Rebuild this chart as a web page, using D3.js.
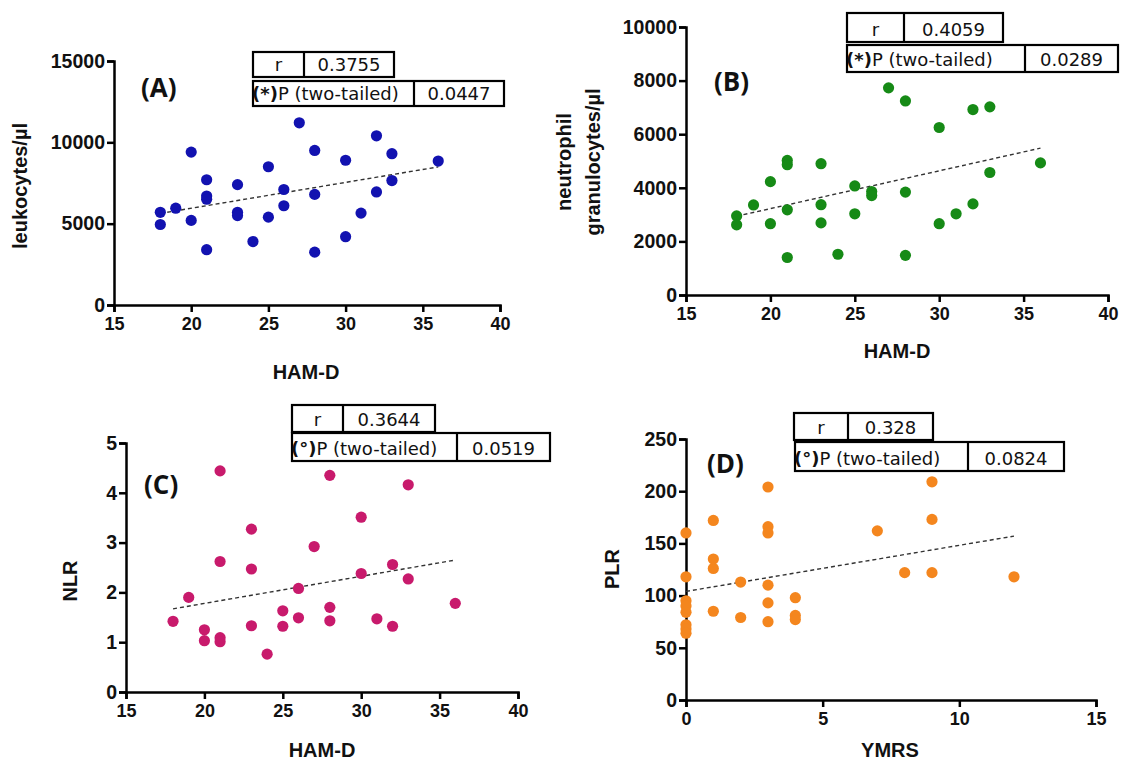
<!DOCTYPE html>
<html>
<head>
<meta charset="utf-8">
<title>Inflammatory markers vs. HAM-D / YMRS</title>
<style type="text/css">
body { margin: 0; background: #fff; }
.axis path, .axis line { stroke: #000; stroke-width: 2.5px; }
.axis text { font-family: "Liberation Sans", Arial, sans-serif; font-weight: bold; font-size: 18px; fill: #111; }
.axis--y text { font-size: 19.5px; }
.title { font-family: "Liberation Sans", Arial, sans-serif; font-weight: bold; font-size: 20px; fill: #111; }
.panel { font-family: "Open Sans", sans-serif; font-weight: bold; font-size: 26px; fill: #111; }
.stat { font-family: "DejaVu Sans", sans-serif; font-size: 18px; fill: #111; }
.fit { fill: none; stroke: #333; stroke-width: 1.4px; stroke-dasharray: 4,3; }
</style>
<script src="https://cdn.jsdelivr.net/npm/d3@7"></script>
</head>
<body>
<svg width="1126" height="762"></svg>
<script type="text/javascript">

// (A) leukocytes vs HAM-D
var hamdA = [18,18,19,20,20,21,21,21,21,23,23,23,24,25,25,26,26,27,28,28,28,30,30,31,32,32,33,33,36];
var leukocytes = [5700,4950,5950,9400,5200,7700,6700,6500,3400,7400,5700,5500,3900,8500,5400,7100,6100,11200,9500,6800,3250,8900,4200,5650,10400,6950,9300,7650,8850];
var fitA = [[18,5630],[36,8490]];

// (B) neutrophil granulocytes vs HAM-D
var hamdB = [18,18,19,20,20,21,21,21,21,23,23,23,24,25,25,26,26,27,28,28,28,30,30,31,32,32,33,33,36];
var neutrophils = [2950,2620,3360,4230,2660,5020,4860,3180,1400,4900,3370,2690,1520,4070,3030,3860,3710,7730,7240,3840,1480,6250,2660,3030,6920,3400,7020,4570,4930];
var fitB = [[18,2940],[36,5480]];

// (C) NLR vs HAM-D
var hamdC = [18,19,20,20,21,21,21,21,23,23,23,24,25,25,26,26,27,28,28,28,30,30,31,32,32,33,33,36];
var nlr = [1.42,1.9,1.25,1.03,4.44,2.62,1.09,1.01,3.27,2.47,1.33,0.76,1.63,1.32,2.08,1.49,2.92,4.35,1.70,1.43,3.51,2.38,1.47,2.56,1.32,4.16,2.27,1.78];
var fitC = [[18,1.67],[36,2.65]];

// (D) PLR vs YMRS
var ymrs = [0,0,0,0,0,0,0,0,1,1,1,1,2,2,3,3,3,3,3,3,4,4,4,7,8,9,9,9,12];
var plr = [160,118,95,90,84,72,68,64,172,135,126,85,113,79,204,166,160,110,93,75,98,81,77,162,122,209,173,122,118];
var fitD = [[0,104],[12,157]];

var statR = ["0.3755","0.4059","0.3644","0.328"];
var statP = ["0.0447","0.0289","0.0519","0.0824"];
var statMark = ["(*)","(*)","(°)","(°)"];
var panelNames = ["(A)","(B)","(C)","(D)"];

var svg = d3.select("svg");

svg.append("rect").attr("width", 1126).attr("height", 762).attr("fill", "#fff");

var panels = [
  { xs: hamdA, ys: leukocytes, fit: fitA, color: "#1212b0", xdom: [15,40], ydom: [0,15000], ytick: 5000, xtick: 5,
    x0: 114, x1: 500, y0: 305, y1: 61, ylab: ["leukocytes/\u00b5l"], ylabX: [27], ylabY: 186, xlab: "HAM-D", xlabX: 306, xlabY: 379,
    nameX: 141, nameY: 97, rBox: [253,52,304,394,77], pBox: [253,81,414,504,106] },
  { xs: hamdB, ys: neutrophils, fit: fitB, color: "#168a16", xdom: [15,40], ydom: [0,10000], ytick: 2000, xtick: 5,
    x0: 686, x1: 1108, y0: 295, y1: 27, ylab: ["neutrophil","granulocytes/\u00b5l"], ylabX: [571,600], ylabY: 162, xlab: "HAM-D", xlabX: 897, xlabY: 358,
    nameX: 714, nameY: 91, rBox: [847,13,904,1003,42], pBox: [847,45,1025,1118,72] },
  { xs: hamdC, ys: nlr, fit: fitC, color: "#c81a6c", xdom: [15,40], ydom: [0,5], ytick: 1, xtick: 5,
    x0: 126, x1: 518, y0: 692, y1: 443, ylab: ["NLR"], ylabX: [77], ylabY: 581, xlab: "HAM-D", xlabX: 322, xlabY: 757,
    nameX: 144, nameY: 494, rBox: [292,405,343,435,432], pBox: [292,433,457,550,461] },
  { xs: ymrs, ys: plr, fit: fitD, color: "#f4861e", xdom: [0,15], ydom: [0,250], ytick: 50, xtick: 5,
    x0: 686, x1: 1096, y0: 700, y1: 439, ylab: ["PLR"], ylabX: [619], ylabY: 569, xlab: "YMRS", xlabX: 890, xlabY: 757,
    nameX: 707, nameY: 473, rBox: [794,413,848,933,440], pBox: [795,442,968,1064,471] }
];

panels.forEach(function(p, i) {
  var xScale = d3.scaleLinear().domain(p.xdom).range([p.x0, p.x1]),
      yScale = d3.scaleLinear().domain(p.ydom).range([p.y0, p.y1]);

  var g = svg.append("g");

  g.append("g")
    .attr("class", "axis axis--x")
    .attr("transform", "translate(0," + p.y0 + ")")
    .call(d3.axisBottom(xScale).tickValues(d3.range(p.xdom[0], p.xdom[1] + 0.001, p.xtick)).tickSize(7).tickPadding(5).tickFormat(d3.format("d")));

  g.append("g")
    .attr("class", "axis axis--y")
    .attr("transform", "translate(" + p.x0 + ",0)")
    .call(d3.axisLeft(yScale).tickValues(d3.range(p.ydom[0], p.ydom[1] + 0.001, p.ytick)).tickSize(7).tickPadding(2).tickFormat(d3.format("d")));

  // regression line
  g.append("path")
    .datum(p.fit)
    .attr("class", "fit")
    .attr("d", d3.line().x(function(d){return xScale(d[0])}).y(function(d){return yScale(d[1])}));

  g.selectAll(".dot")
    .data(p.xs.map(function(x, k){ return [x, p.ys[k]]; }))
    .enter()
    .append("circle")
    .attr("class", "dot")
    .attr("cx", function(d){return xScale(d[0])})
    .attr("cy", function(d){return yScale(d[1])})
    .attr("r", 5.6)
    .attr("fill", p.color);

  // axis titles
  g.append("text")
    .attr("class", "title")
    .attr("x", p.xlabX)
    .attr("y", p.xlabY)
    .attr("text-anchor", "middle")
    .text(p.xlab);

  p.ylab.forEach(function(t, k) {
    g.append("text")
      .attr("class", "title")
      .attr("transform", "translate(" + p.ylabX[k] + "," + p.ylabY + ") rotate(-90)")
      .attr("text-anchor", "middle")
      .text(t);
  });

  g.append("text")
    .attr("class", "panel")
    .attr("x", p.nameX)
    .attr("y", p.nameY)
    .text(panelNames[i]);

  // stats table: r row and P row
  var r = p.rBox, q = p.pBox;
  [[r[0], r[1], r[3] - r[0], r[4] - r[1]], [q[0], q[1], q[3] - q[0], q[4] - q[1]]].forEach(function(b) {
    g.append("rect").attr("x", b[0]).attr("y", b[1]).attr("width", b[2]).attr("height", b[3])
      .attr("fill", "#fff").attr("stroke", "#000").attr("stroke-width", 2.2);
  });
  g.append("line").attr("x1", r[2]).attr("x2", r[2]).attr("y1", r[1]).attr("y2", r[4]).attr("stroke", "#000").attr("stroke-width", 2.2);
  g.append("line").attr("x1", q[2]).attr("x2", q[2]).attr("y1", q[1]).attr("y2", q[4]).attr("stroke", "#000").attr("stroke-width", 2.2);

  g.append("text").attr("class", "stat").attr("x", (r[0] + r[2]) / 2).attr("y", r[4] - 6)
    .attr("text-anchor", "middle").text("r");
  g.append("text").attr("class", "stat").attr("x", (r[2] + r[3]) / 2).attr("y", r[4] - 6)
    .attr("text-anchor", "middle").text(statR[i]);

  var pt = g.append("text").attr("class", "stat").attr("x", q[0] - 1).attr("y", q[4] - 6);
  pt.append("tspan").attr("font-weight", "bold").text(statMark[i]);
  pt.append("tspan").text("P (two-tailed)");
  g.append("text").attr("class", "stat").attr("x", (q[2] + q[3]) / 2).attr("y", q[4] - 6)
    .attr("text-anchor", "middle").text(statP[i]);
});

</script>
</body>
</html>
